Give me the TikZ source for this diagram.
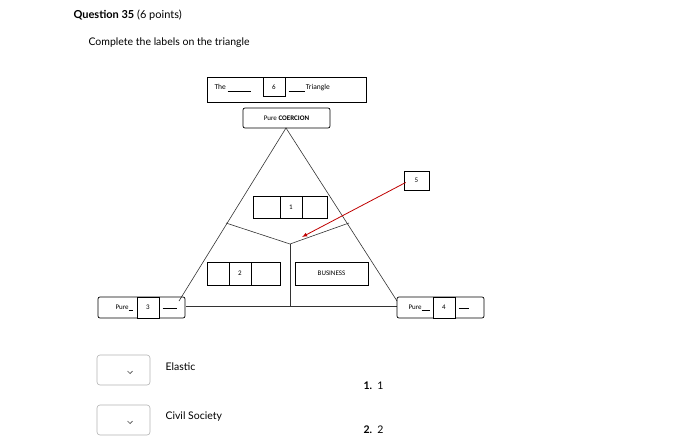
\documentclass[tikz,border=0pt]{standalone}
\usepackage{fontspec}
\setmainfont{Lato}
\newfontfamily\dg{Carlito}
\begin{document}
\begin{tikzpicture}[x=1pt,y=-1pt,
  bx/.style={draw,line width=0.7pt,inner sep=0pt,font=\dg\fontsize{7}{8}\selectfont},
  rbx/.style={bx,rounded corners=2pt},
  ln/.style={line width=0.6pt,black!80},
  dd/.style={draw=black!30,rounded corners=3pt,line width=0.6pt}]
\useasboundingbox (0,0) rectangle (700,441);
\node[anchor=west,font=\fontsize{11}{13}\selectfont] (q) at (70,15) {\textbf{Question 35} (6 points)};
\node[anchor=west,font=\fontsize{10.5}{13}\selectfont] (c) at (85,43) {Complete the labels on the triangle};
% title
\node[bx,minimum width=159pt,minimum height=25pt] (title) at (286.5,89.5) {};
\node[anchor=west,font=\dg\fontsize{7.5}{9}\selectfont] at (211,88) {The \underline{\hspace{23pt}}};
\node[anchor=west,font=\dg\fontsize{7.5}{9}\selectfont] at (285,88) {\underline{\hspace{16pt}}\,Triangle};
\node[bx,minimum width=22pt,minimum height=19pt] (six) at (274,87) {6};
\node[rbx,minimum width=87pt,minimum height=20pt] (coer) at (286.5,118) {Pure \textbf{COERCION}};
% triangle
\coordinate (A) at (286,128);
\coordinate (L) at (179,301);
\coordinate (R) at (397,301);
\coordinate (C) at (290,244);
\coordinate (BL) at (186,306);
\coordinate (BR) at (397,306);
\coordinate (M) at (290,306);
\coordinate (PL) at (226,223);
\coordinate (PR) at (349,223);
\draw[ln] (L) -- (A) -- (R);
\draw[ln] (BL) -- (BR);
\draw[ln] (PL) -- (C) -- (PR);
\draw[ln] (C) -- (M);
% boxes
\node[bx,minimum width=74pt,minimum height=22pt] (b1) at (290,207) {};
\node[bx,minimum width=22pt,minimum height=22pt] (one) at (291,207) {1};
\node[bx,minimum width=73pt,minimum height=23pt] (b2) at (243.5,273.5) {};
\node[bx,minimum width=22pt,minimum height=23pt] (two) at (240,273.5) {2};
\node[bx,minimum width=73pt,minimum height=23pt] (bus) at (331.5,273.5) {BUSINESS};
\node[bx,minimum width=25pt,minimum height=19pt] (five) at (416.5,180.5) {5};
\draw[red!75!black,line width=0.8pt,-latex] (five.west) ++(2,2) coordinate (fs) -- (302,237) coordinate (ft);
% corner boxes
\node[rbx,minimum width=87pt,minimum height=21pt] (p3) at (141.5,307.5) {};
\node[anchor=west,font=\dg\fontsize{7}{8}\selectfont] at (112,308) {Pure\underline{\hspace{4pt}}};
\node[anchor=west,font=\dg\fontsize{7}{8}\selectfont] at (159,308) {\underline{\hspace{14pt}}};
\node[bx,minimum width=22pt,minimum height=21pt,fill=white] (three) at (148,307.5) {3};
\node[rbx,minimum width=87pt,minimum height=21pt] (p4) at (440.5,307.5) {};
\node[anchor=west,font=\dg\fontsize{7}{8}\selectfont] at (405,308) {Pure\underline{\hspace{8pt}}};
\node[anchor=west,font=\dg\fontsize{7}{8}\selectfont] at (455,308) {\underline{\hspace{10pt}}};
\node[bx,minimum width=22pt,minimum height=21pt,fill=white] (four) at (444,307.5) {4};
% dropdowns
\node[dd,minimum width=53pt,minimum height=30pt] (d1) at (123.5,370) {};
\node[dd,minimum width=53pt,minimum height=30pt] (d2) at (123.5,420) {};
\foreach \d in {d1,d2}{
  \draw[line width=0.7pt,black!70] ([xshift=-1pt,yshift=-1pt]\d.center) ++(5,0) -- ++(2.5,2.5) -- ++(2.5,-2.5);
}
\node[anchor=west,font=\fontsize{10.5}{13}\selectfont] (e) at (162,367) {Elastic};
\node[anchor=west,font=\fontsize{10.5}{13}\selectfont] (cs) at (162,417) {Civil Society};
\node[anchor=west,font=\fontsize{10.5}{13}\selectfont] (n1) at (360,386) {\textbf{1.}\ \ 1};
\node[anchor=west,font=\fontsize{10.5}{13}\selectfont] (n2) at (360,430) {\textbf{2.}\ \ 2};
\end{tikzpicture}
\end{document}
